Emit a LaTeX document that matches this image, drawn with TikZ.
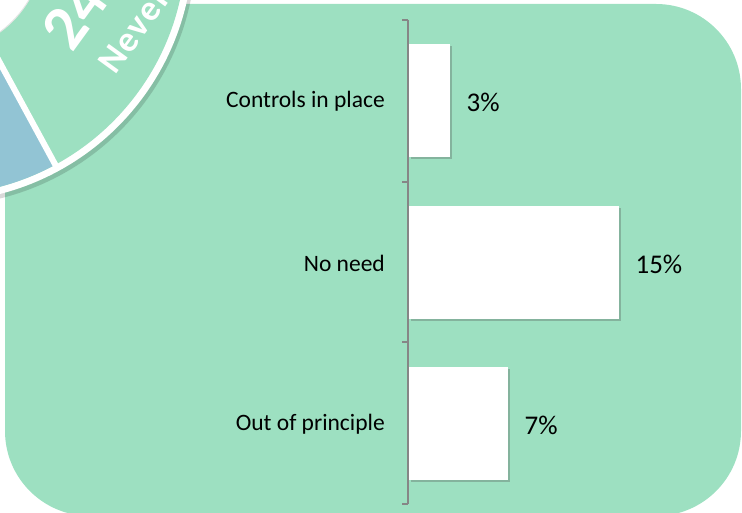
\documentclass[tikz,border=0pt]{standalone}
\usepackage{fontspec}
\setmainfont{Carlito}
\usetikzlibrary{shadows}
\definecolor{mint}{RGB}{157,224,193}
\definecolor{sky}{RGB}{146,196,212}
\definecolor{axisgray}{RGB}{134,134,134}
\newcommand{\BigNum}[1]{{\fontsize{64}{64}\selectfont\bfseries #1}}
\newcommand{\Spaced}[1]{{\fontsize{36}{36}\selectfont\bfseries\addfontfeatures{LetterSpace=5}#1}}

\tikzset{
  bar/.style={fill=white, inner sep=0pt, anchor=west,
    drop shadow={shadow xshift=2pt, shadow yshift=-2pt, opacity=.3, fill=black!70}},
  cat/.style={anchor=east, inner sep=0pt, font=\fontsize{23.5}{26}\selectfont},
  val/.style={anchor=west, inner sep=0pt, xshift=16pt, yshift=-1pt, font=\fontsize{27}{30}\selectfont},
  ring/.style={white, anchor=base west, inner sep=0pt, rotate=54}
}

\begin{document}
\begin{tikzpicture}[x=1pt,y=1pt]
\useasboundingbox (0,0) rectangle (742,513);

\fill[mint, rounded corners=85pt] (5,-3) rectangle (741,509);

% axis and ticks
\draw[axisgray, line width=1.5pt] (408,493) -- (408,9);
\foreach \y in {493,331,171,9}
  \draw[axisgray, line width=1.5pt] (402,\y) -- (408,\y);

% bars
\node[bar, minimum width=41pt, minimum height=113pt] (b1) at (409,412) {};
\node[bar, minimum width=210pt, minimum height=113pt] (b2) at (409,250) {};
\node[bar, minimum width=99pt, minimum height=113pt] (b3) at (409,89) {};

\draw(b1.east) node[val] (v1) {3\%};
\draw(b2.east) node[val] (v2) {15\%};
\draw(b3.east) node[val] (v3) {7\%};

\draw(385,412) node[cat] (c1) {Controls in place};
\draw(385,250) node[cat] (c2) {No need};
\draw(385,89) node[cat] (c3) {Out of principle};

% pie corner
\begin{scope}
\clip (0,0) rectangle (742,513);
\fill[black, opacity=.15] (-62,565) circle (258);
\fill[white] (-64,568) circle (257);
\fill[mint] (-64,568) circle (250);
\fill[sky] (-64,568) -- ++(-61.5:250) arc (-61.5:-200:250) -- cycle;
\draw[white, line width=6pt] (-64,568) -- ++(-61.5:253);
\fill[white, draw=black!10, line width=1pt] (-64,568) circle (108);
\draw(72,459) node[ring] (pct) {\BigNum{24\%}};
\draw(115,437) node[ring] (never) {\Spaced{Never}};
\end{scope}

\end{tikzpicture}
\end{document}
